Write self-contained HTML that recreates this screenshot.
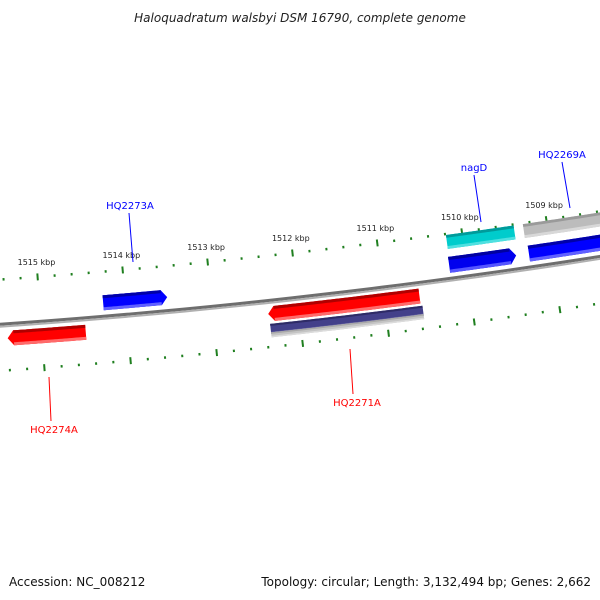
<!DOCTYPE html>
<html><head><meta charset="utf-8"><style>
body{margin:0;background:#fff;width:600px;height:600px;overflow:hidden}
svg{display:block;font-family:"DejaVu Sans","Liberation Sans",sans-serif}
</style></head><body>
<svg id="map" width="600" height="600" viewBox="0 0 600 600" xmlns="http://www.w3.org/2000/svg">
<text x="300" y="22" text-anchor="middle" font-size="12" font-style="italic" fill="#222">Haloquadratum walsbyi DSM 16790, complete genome</text>
<g id="layer"></g>
<text x="9" y="586" font-size="12" fill="#111">Accession: NC_008212</text>
<text x="591" y="586" text-anchor="end" font-size="12" fill="#111">Topology: circular; Length: 3,132,494 bp; Genes: 2,662</text>
</svg>
<script>
// data (kbp)
const tickKbp = [1515, 1514, 1513, 1512, 1511, 1510, 1509];
const geneNames = ["HQ2274A", "HQ2273A", "HQ2271A", "HQ2271A-b", "HQ2271A-c", "nagD", "nagD-b", "HQ2269A", "HQ2269A-b"];
const geneStart = [1515.40, 1514.26, 1512.36, 1512.35, 1512.35, 1510.19, 1510.20, 1509.28, 1509.26];
const geneEnd   = [1514.49, 1513.51, 1510.59, 1510.57, 1510.57, 1509.39, 1509.41, 1507.6, 1507.6];
const geneStrand = [-1, 1, -1, 0, 0, 0, 1, 0, 1];
const geneRing  = [14, -14, 13, 28, 34, -37, -14, -37, -14];
const geneWidth = [15, 15, 15, 10, 5, 14, 16, 14, 16];
const geneColor = ["#ff0000","#0000ff","#ff0000","#43408a","#c4c4c4","#00cccc","#0000ee","#bcbcbc","#0000ff"];
const geneDark  = ["#b00000","#0000a8","#b00000","#2e2b66","#a8a8a8","#009a9a","#0000a0","#9a9a9a","#0000a8"];
const geneLight = ["#ff6a6a","#6060ff","#ff6a6a","#6d6aa8","#dcdcdc","#4fe0e0","#5555ff","#d8d8d8","#6060ff"];

const NS="http://www.w3.org/2000/svg";
const CX=-474, CY=-6559, R0=6900, TH0=0.0747, K=0.01245;
function theta(kbp){return TH0+(1515-kbp)*K;}
function P(kbp,r){const t=theta(kbp),R=R0+r;return [CX+R*Math.sin(t),CY+R*Math.cos(t)];}
const layer=document.getElementById('layer');
function mk(tag,attrs){const e=document.createElementNS(NS,tag);for(const k in attrs)e.setAttribute(k,attrs[k]);layer.appendChild(e);return e;}
function band(k1,k2,r1,r2,tipStart,tipEnd,tipLen){
  // r1 outer-top, r2 bottom; returns path
  const n=30,pts=[];const rm=(r1+r2)/2;
  let a=k1,b=k2;
  if(tipStart) a=k1-tipLen; if(tipEnd) b=k2+tipLen;
  for(let i=0;i<=n;i++){pts.push(P(a+(b-a)*i/n,r1));}
  if(tipEnd) pts.push(P(k2,rm));
  for(let i=n;i>=0;i--){pts.push(P(a+(b-a)*i/n,r2));}
  if(tipStart) pts.push(P(k1,rm));
  return 'M'+pts.map(p=>p[0].toFixed(2)+','+p[1].toFixed(2)).join('L')+'Z';
}
// backbone
const bb1=mk('path',{d:band(1516.5,1507,-2,1,false,false,0),fill:'#6e6e6e'});


const bb2=mk('path',{d:band(1516.5,1507,1,3,false,false,0),fill:'#b0b0b0'});


// ticks
function tickRing(rr,dir,name){
  for(let v=15170;v>=15060;v-=2){
    const kb=v/10; const major=(v%10===0);
    const L=major?7:2.5;
    const p1=P(kb,rr-L/2),p2=P(kb,rr+L/2);
    const t=mk('line',{x1:p1[0],y1:p1[1],x2:p2[0],y2:p2[1],stroke:'#1f7f1f','stroke-width':2});
    
    
  }
}
tickRing(-45,-1,'outer');
tickRing(46,1,'inner');
tickKbp.forEach(k=>{
  const p=P(k,-60);
  const t=mk('text',{x:p[0],y:p[1]+3,'text-anchor':'middle','font-size':'8',fill:'#222'});
  t.textContent=k+' kbp';
  
  
});
// genes
geneNames.forEach((g,i)=>{
  const r=geneRing[i],w=geneWidth[i];
  const s=geneStrand[i];
  const tipS=s<0, tipE=s>0, tl=0.07;
  const k1=tipS?geneStart[i]-tl:geneStart[i], k2=tipE?geneEnd[i]+tl:geneEnd[i];
  const body=mk('path',{d:band(geneStart[i],geneEnd[i],r-w/2,r+w/2,tipS,tipE,tl),fill:geneColor[i]});
  
  
  const dk=mk('path',{d:band(k1,k2,r-w/2,r-w/2+Math.max(1.5,w*0.2),false,false,0),fill:geneDark[i]});
  
  
  const lt=mk('path',{d:band(k1,k2,r+w/2-Math.max(1.5,w*0.2),r+w/2,false,false,0),fill:geneLight[i]});
  
  
});
// gene labels
const labels=[
 ["HQ2273A",130,209,"#0000ff",129,213,133,262],
 ["nagD",474,171,"#0000ff",474,175,481,222],
 ["HQ2269A",562,158,"#0000ff",562,162,570,208],
 ["HQ2274A",54,433,"#ff0000",49,377,51,421],
 ["HQ2271A",357,406,"#ff0000",350,349,353,394]
];
labels.forEach(l=>{
  const ln=mk('line',{x1:l[4],y1:l[5],x2:l[6],y2:l[7],stroke:l[3],'stroke-width':1});
  
  
  const t=mk('text',{x:l[1],y:l[2],'text-anchor':'middle','font-size':'10',fill:l[3]});
  t.textContent=l[0];
  
  
});
</script>
</body></html>
